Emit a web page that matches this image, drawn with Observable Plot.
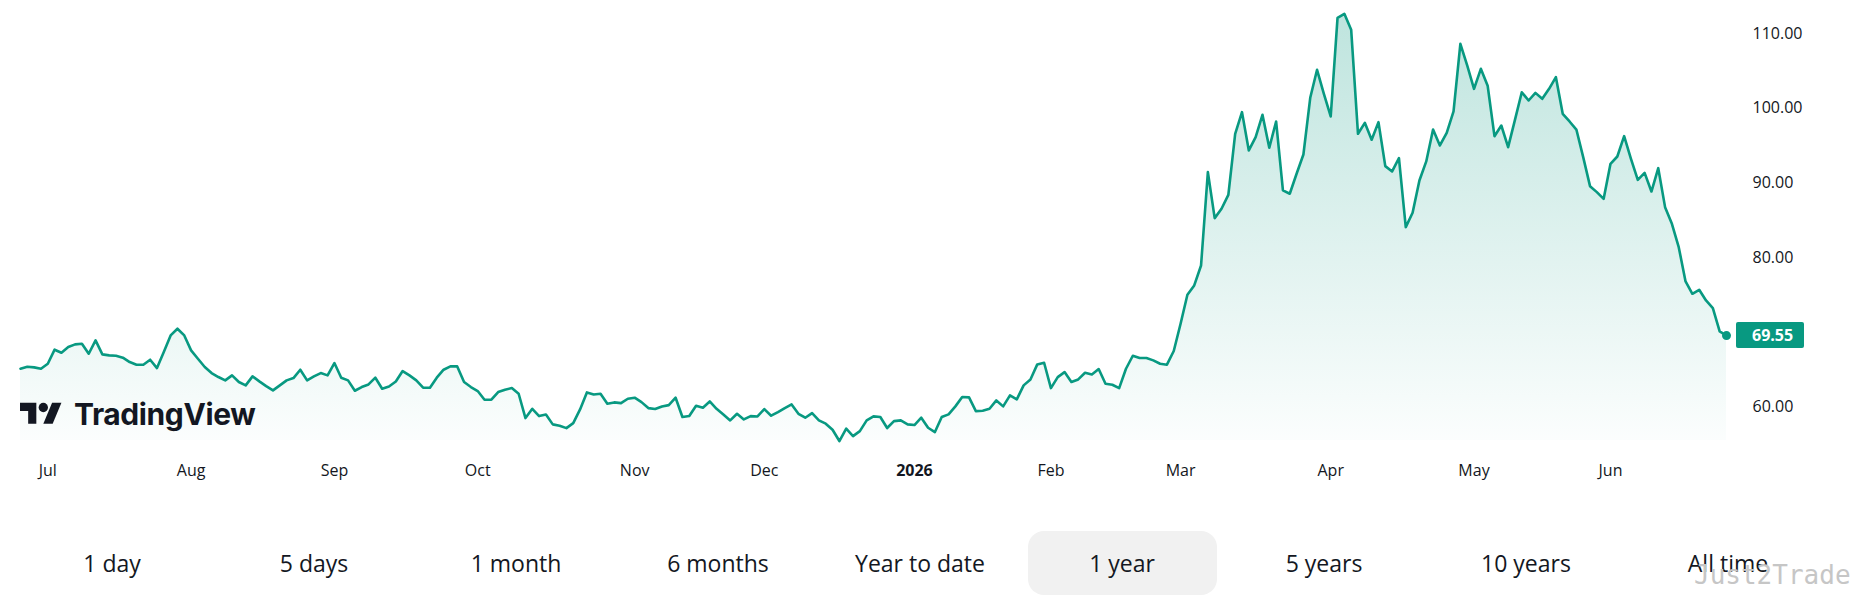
<!DOCTYPE html>
<html>
<head>
<meta charset="utf-8">
<script src="https://cdn.jsdelivr.net/npm/d3@7"></script>
<script src="https://cdn.jsdelivr.net/npm/@observablehq/plot@0.6"></script>
<style>
  html, body { margin: 0; padding: 0; background: #fff; }
  body { width: 1855px; height: 601px; overflow: hidden; position: relative; font-family: "Open Sans", sans-serif; color: #131722; }
  #chart { position: absolute; left: 0; top: 0; }
  #logo { position: absolute; left: 20px; top: 396px; height: 36px; display: flex; align-items: center; pointer-events: none; }
  #logo svg { display: block; }
  #logo span { font-family: Inter, sans-serif; font-weight: 700; font-size: 30px; letter-spacing: -0.4px; color: #131722; margin-left: 12px; line-height: 36px; }
  #ranges { position: absolute; left: 11px; top: 531px; display: flex; }
  #ranges div { width: 202px; height: 64px; display: flex; align-items: center; justify-content: center; }
  #ranges span { display: flex; align-items: center; justify-content: center; width: 189px; height: 64px; border-radius: 16px; font-size: 23px; color: #131722; }
  #ranges span.active { background: #f1f1f1; }
  #wm { position: absolute; left: 1694px; top: 560px; font-family: "DejaVu Sans Mono", monospace; font-size: 26px; color: #c6c6c6; letter-spacing: 0px; }
</style>
</head>
<body>
<div id="chart"></div>
<div id="logo"></div>
<div id="ranges"></div>
<div id="wm"></div>
<script>
// Daily closes, one per trading session (index 0 = first bar on the left)
const closes = [
  65.11, 65.38, 65.29, 65.11, 65.78, 67.66, 67.25, 68.01, 68.37, 68.46,
  67.12, 68.91, 67.03, 66.90, 66.85, 66.59, 66.00, 65.65, 65.65, 66.32,
  65.20, 67.34, 69.57, 70.47, 69.57, 67.57, 66.45, 65.34, 64.53, 64.00,
  63.55, 64.22, 63.33, 62.88, 64.09, 63.42, 62.79,
  62.21, 62.88, 63.55, 63.86, 64.98, 63.55, 64.08, 64.53, 64.22, 65.87,
  63.91, 63.55, 62.16, 62.66, 63.01, 63.91, 62.43, 62.74, 63.41, 64.80,
  64.22, 63.55, 62.57, 62.57, 63.91, 64.98, 65.42, 65.42, 63.33, 62.66,
  62.12, 60.96, 60.96, 61.99, 62.30, 62.52,
  61.76, 58.50, 59.75, 58.77, 58.99, 57.66, 57.48, 57.16, 57.83, 59.66,
  61.94, 61.67, 61.76, 60.42, 60.60, 60.51, 61.09, 61.23, 60.64, 59.84,
  59.71, 60.06, 60.24, 61.23, 58.64, 58.77, 60.15, 59.89, 60.73, 59.75,
  58.99, 58.19, 59.08, 58.32, 58.77, 58.72,
  59.71, 58.82, 59.31, 59.84, 60.33, 59.08, 58.55, 59.17, 58.19, 57.75,
  56.94, 55.43, 57.08, 56.09, 56.76, 58.19, 58.73, 58.64, 57.17, 58.10,
  58.19, 57.66, 57.57, 58.55, 57.21, 56.63, 58.64, 59.00, 60.07, 61.32,
  61.27, 59.44, 59.49, 59.75, 60.87, 60.07,
  61.54, 61.00, 62.88, 63.68, 65.69, 65.91, 62.52, 63.99, 64.66, 63.33,
  63.68, 64.57, 64.35, 65.07, 63.10, 62.97, 62.52, 65.11, 66.85, 66.54,
  66.54, 66.23, 65.78, 65.65, 67.48, 71.14, 75.02, 76.27, 78.94, 91.44,
  85.28, 86.53, 88.40, 96.57, 99.47,
  94.34, 96.12, 99.11, 94.70, 98.22, 88.99, 88.54, 91.22, 93.80, 101.39,
  105.14, 101.93, 98.89, 112.10, 112.64, 110.49, 96.57, 98.04, 95.77, 98.13,
  92.24, 91.53, 93.31, 84.08, 86.00, 90.32, 92.87, 97.15, 95.01, 96.70,
  99.56, 108.62, 105.72, 102.59, 105.27, 103.00,
  96.25, 97.68, 94.78, 98.44, 102.14, 101.03, 102.05, 101.25, 102.59, 104.15,
  99.24, 98.22, 97.14, 93.44, 89.56, 88.76, 87.86, 92.55, 93.53, 96.25,
  93.22, 90.41, 91.34, 88.84, 91.97, 86.75, 84.52, 81.39, 76.80, 75.15,
  75.68, 74.25, 73.23, 70.10, 69.55
];

// Time axis: bar index of the first session of each month, and its label
const monthTickIndex = [4, 25, 46, 67, 90, 109, 151, 170, 192, 213, 233];
const monthTickLabel = ["Jul", "Aug", "Sep", "Oct", "Nov", "Dec", "Feb", "Mar", "Apr", "May", "Jun"];
const yearTickIndex = [131];
const yearTickLabel = ["2026"];

// Price axis
const priceTicks = [60, 80, 90, 100, 110];
const priceDomain = [55.5, 114.42];
const lastPriceLabel = "69.55";

// Range selector
const rangeLabels = ["1 day", "5 days", "1 month", "6 months", "Year to date", "1 year", "5 years", "10 years", "All time"];
const activeRange = "1 year";
const watermark = "Just2Trade";
const brand = "TradingView";

const green = "#089981";
const rows = closes.map((v, i) => ({ i, v }));
const last = rows[rows.length - 1];

const chart = Plot.plot({
  width: 1855,
  height: 500,
  marginLeft: 20,
  marginRight: 129,
  marginTop: 0,
  marginBottom: 60,
  x: { domain: [0, closes.length - 1] },
  y: { domain: priceDomain },
  style: { fontFamily: '"Open Sans", sans-serif', color: "#131722", background: "transparent", overflow: "visible" },
  marks: [
    Plot.areaY(rows, { x: "i", y1: () => priceDomain[0], y2: "v", fill: "url(#tvFill)" }),
    Plot.lineY(rows, { x: "i", y: "v", stroke: green, strokeWidth: 2.6, strokeLinejoin: "round", strokeLinecap: "round" }),
    Plot.dot([last], { x: "i", y: "v", r: 4.5, fill: green }),
    Plot.axisX(monthTickIndex, { tickSize: 0, tickPadding: 24, fontSize: 16, label: null,
      tickFormat: d => monthTickLabel[monthTickIndex.indexOf(d)] }),
    Plot.axisX(yearTickIndex, { tickSize: 0, tickPadding: 24, fontSize: 16, fontWeight: "bold", label: null,
      tickFormat: d => yearTickLabel[yearTickIndex.indexOf(d)] }),
    Plot.axisY(priceTicks, { anchor: "right", tickSize: 0, tickPadding: 26, fontSize: 16, label: null,
      tickFormat: d => d.toFixed(2) })
  ]
});

// gradient for the area fill
const svg = d3.select(chart);
const grad = svg.insert("defs", ":first-child").append("linearGradient")
  .attr("id", "tvFill").attr("gradientUnits", "userSpaceOnUse")
  .attr("x1", 0).attr("x2", 0).attr("y1", 0).attr("y2", chart.scale("y").apply(priceDomain[0]));
grad.append("stop").attr("offset", "0%").attr("stop-color", green).attr("stop-opacity", 0.27);
grad.append("stop").attr("offset", "100%").attr("stop-color", green).attr("stop-opacity", 0.015);

// last-price badge, positioned from the plot's own scales
const bx = chart.scale("x").apply(last.i) + 10;
const by = chart.scale("y").apply(last.v);
const badge = svg.append("g");
badge.append("rect").attr("x", bx).attr("y", by - 13).attr("width", 68).attr("height", 26).attr("rx", 2).attr("fill", green);
badge.append("text").attr("x", bx + 16).attr("y", by).attr("dy", "0.35em")
  .attr("text-anchor", "start")
  .attr("fill", "#fff").attr("font-size", 16).attr("font-weight", 700)
  .attr("font-family", '"Open Sans", sans-serif').text(lastPriceLabel);

document.getElementById("chart").appendChild(chart);

// logo
const logo = document.getElementById("logo");
logo.innerHTML = '<svg width="42" height="33" viewBox="0 0 36 28"><path d="M14 22H7V11H0V4h14v18z" fill="#131722"/><circle cx="20" cy="8" r="4" fill="#131722"/><path d="M28 22h-8l7.5-18h8L28 22z" fill="#131722"/></svg>';
const bt = document.createElement("span");
bt.textContent = brand;
logo.appendChild(bt);

// range buttons
const rr = document.getElementById("ranges");
rangeLabels.forEach(l => {
  const cell = document.createElement("div");
  const s = document.createElement("span");
  s.textContent = l;
  if (l === activeRange) s.className = "active";
  cell.appendChild(s);
  rr.appendChild(cell);
});
document.getElementById("wm").textContent = watermark;
</script>
</body>
</html>
